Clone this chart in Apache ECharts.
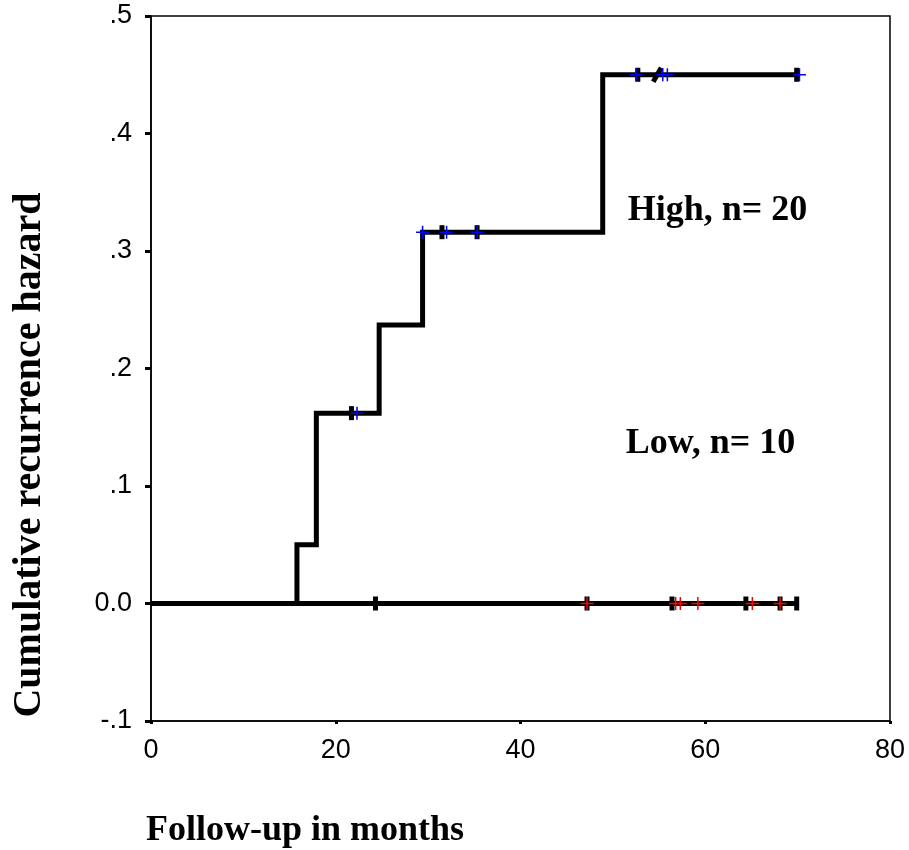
<!DOCTYPE html>
<html>
<head>
<meta charset="utf-8">
<script src="https://cdn.jsdelivr.net/npm/echarts@6/dist/echarts.min.js"></script>
<style>
  html, body { margin: 0; padding: 0; background: #fff; }
  #chart { width: 909px; height: 850px; }
</style>
</head>
<body>
<div id="chart"></div>
<script>
// step curves: [month, cumulative hazard]
const highSteps = [[0, 0], [15.8, 0.05], [17.9, 0.162], [24.7, 0.237], [29.4, 0.316], [48.9, 0.45], [69.9, 0.45]];
const lowSteps = [[0, 0], [69.9, 0]];

// censor marks (black bars + thin coloured crosses)
const highCensorBlack = [[21.7, 0.162], [31.5, 0.316], [35.3, 0.316], [52.7, 0.45], [69.9, 0.45]];
const highCensorSlash = [[54.8, 0.45]];
const highCensorBlue = [[22.3, 0.162], [29.4, 0.316], [32.0, 0.316], [35.3, 0.316], [52.5, 0.45], [55.4, 0.45], [55.9, 0.45], [70.2, 0.45]];
const lowCensorBlack = [[24.3, 0], [47.2, 0], [56.4, 0], [64.4, 0], [68.1, 0], [69.9, 0]];
const lowCensorRed = [[47.2, 0], [56.8, 0], [57.3, 0], [59.2, 0], [65.1, 0], [68.1, 0]];

const groupLabels = ['High, n= 20', 'Low, n= 10'];
const groupLabelPos = [[51.6, 0.334], [51.4, 0.136]];

const xTitle = 'Follow-up in months';
const yTitle = 'Cumulative recurrence hazard';

const crossPath = 'path://M0,5.3H12V6.7H0Z M5.3,0H6.7V12H5.3Z';

function yLabel(v) {
    const r = Math.round(v * 10) / 10;
    if (r === 0) return '0.0';
    return (r < 0 ? '-' : '') + String(Math.abs(r)).replace(/^0/, '');
}

const chart = echarts.init(document.getElementById('chart'));

const option = {
    animation: false,
    backgroundColor: '#fff',
    grid: {
        left: 151, top: 16, right: 19, bottom: 129,
        show: true, borderColor: '#000', borderWidth: 1.5
    },
    xAxis: {
        type: 'value', min: 0, max: 80, interval: 20,
        axisLine: { onZero: false, lineStyle: { color: '#000', width: 1.5 } },
        axisTick: { length: 3, lineStyle: { color: '#000', width: 3 } },
        splitLine: { show: false },
        axisLabel: { color: '#000', fontFamily: 'Liberation Sans', fontSize: 27, margin: 16 }
    },
    yAxis: {
        type: 'value', min: -0.1, max: 0.5, interval: 0.1,
        axisLine: { show: true, onZero: false, lineStyle: { color: '#000', width: 1.5 } },
        axisTick: { show: true, length: 6, lineStyle: { color: '#000', width: 3 } },
        splitLine: { show: false },
        axisLabel: { color: '#000', fontFamily: 'Liberation Sans', fontSize: 27, margin: 19, formatter: yLabel }
    },
    graphic: [
        {
            type: 'text', left: 146, top: 813,
            style: { text: xTitle, fill: '#000', font: 'bold 36px "Liberation Serif"' }
        },
        {
            type: 'text', x: 30, y: 455, rotation: Math.PI / 2,
            style: { text: yTitle, fill: '#000', font: 'bold 40px "Liberation Serif"', align: 'center', verticalAlign: 'middle' }
        }
    ],
    series: [
        {
            type: 'line', step: 'end', data: lowSteps, symbol: 'none',
            lineStyle: { color: '#000', width: 5 }, z: 2
        },
        {
            type: 'line', step: 'end', data: highSteps, symbol: 'none',
            lineStyle: { color: '#000', width: 5, join: 'miter' }, z: 2
        },
        {
            type: 'scatter', data: highCensorBlack.concat(lowCensorBlack),
            symbol: 'rect', symbolSize: [5, 14], itemStyle: { color: '#000', opacity: 1 }, z: 3
        },
        {
            type: 'scatter', data: highCensorSlash,
            symbol: 'rect', symbolSize: [5, 16], symbolRotate: -30, itemStyle: { color: '#000', opacity: 1 }, z: 3
        },
        {
            type: 'scatter', data: highCensorBlue,
            symbol: crossPath, symbolSize: [13, 13], itemStyle: { color: '#0000ff', opacity: 1 }, z: 4
        },
        {
            type: 'scatter', data: lowCensorRed,
            symbol: crossPath, symbolSize: [13, 13], itemStyle: { color: '#ff0000', opacity: 1 }, z: 4
        },
        {
            type: 'scatter', symbolSize: 0, z: 5,
            itemStyle: { opacity: 1 },
            data: groupLabels.map((t, i) => ({ value: groupLabelPos[i], name: t })),
            label: {
                show: true, position: 'right', distance: 0,
                formatter: p => p.name,
                color: '#000', fontFamily: 'Liberation Serif', fontWeight: 'bold', fontSize: 36
            }
        }
    ]
};

chart.setOption(option);
</script>
</body>
</html>
